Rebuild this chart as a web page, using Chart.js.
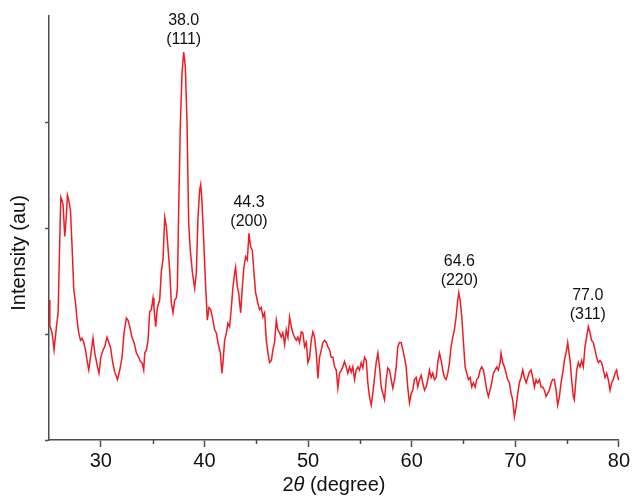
<!DOCTYPE html>
<html>
<head>
<meta charset="utf-8">
<script src="https://cdn.jsdelivr.net/npm/chart.js@4/dist/chart.umd.min.js"></script>
<style>
  html, body { margin: 0; padding: 0; background: #fff; }
  #wrap { width: 632px; height: 496px; }
</style>
</head>
<body>
<div id="wrap"><canvas id="xrd" width="632" height="496"></canvas></div>
<script>
// 2-theta positions (degree)
const twoTheta = [
  25.00, 25.08, 25.30, 25.49, 25.72, 25.88, 26.04, 26.14, 26.26, 26.36,
  26.52, 26.65, 26.78, 26.91, 27.07, 27.23, 27.39, 27.56, 27.71, 27.87,
  28.04, 28.19, 28.36, 28.52, 28.67, 28.84, 29.00, 29.25, 29.42, 29.68,
  29.83, 30.00, 30.22, 30.38, 30.60, 30.77, 30.93, 31.12, 31.35, 31.61,
  31.83, 32.05, 32.24, 32.47, 32.63, 32.79, 33.01, 33.21, 33.44, 33.66,
  33.82, 33.98, 34.14, 34.24, 34.40, 34.56, 34.72, 34.88, 35.04, 35.13,
  35.30, 35.46, 35.68, 35.85, 36.00, 36.17, 36.33, 36.48, 36.65, 36.81,
  36.97, 37.13, 37.29, 37.39, 37.52, 37.68, 37.84, 38.00, 38.16, 38.32,
  38.48, 38.64, 38.84, 39.06, 39.22, 39.38, 39.54, 39.64, 39.76, 39.93,
  40.09, 40.28, 40.44, 40.60, 40.77, 40.99, 41.15, 41.31, 41.54, 41.69,
  41.79, 41.95, 42.12, 42.27, 42.43, 42.60, 42.75, 42.92, 43.01, 43.18,
  43.30, 43.50, 43.66, 43.81, 43.98, 44.14, 44.30, 44.46, 44.62, 44.78,
  44.94, 45.16, 45.33, 45.49, 45.65, 45.81, 45.97, 46.13, 46.29, 46.46,
  46.61, 46.77, 46.94, 47.09, 47.26, 47.42, 47.57, 47.74, 47.90, 48.06,
  48.22, 48.38, 48.54, 48.70, 48.87, 49.02, 49.18, 49.35, 49.50, 49.67,
  49.83, 49.99, 50.15, 50.31, 50.47, 50.63, 50.80, 50.95, 51.11, 51.28,
  51.43, 51.60, 51.76, 51.91, 52.08, 52.24, 52.40, 52.56, 52.72, 52.88,
  53.04, 53.21, 53.36, 53.52, 53.69, 53.84, 54.01, 54.17, 54.32, 54.49,
  54.65, 54.81, 54.97, 55.13, 55.29, 55.45, 55.62, 55.77, 55.93, 56.10,
  56.25, 56.42, 56.58, 56.74, 56.90, 57.06, 57.22, 57.38, 57.55, 57.70,
  57.86, 58.03, 58.18, 58.35, 58.51, 58.66, 58.83, 58.99, 59.15, 59.31,
  59.47, 59.63, 59.79, 59.96, 60.11, 60.27, 60.44, 60.59, 60.76, 60.92,
  61.07, 61.24, 61.40, 61.56, 61.72, 61.88, 62.04, 62.20, 62.37, 62.52,
  62.68, 62.85, 63.00, 63.17, 63.33, 63.49, 63.65, 63.81, 63.97, 64.13,
  64.29, 64.45, 64.55, 64.68, 64.84, 65.00, 65.16, 65.32, 65.48, 65.65,
  65.80, 65.96, 66.13, 66.28, 66.45, 66.61, 66.76, 66.93, 67.09, 67.25,
  67.41, 67.57, 67.73, 67.89, 68.06, 68.21, 68.37, 68.54, 68.63, 68.79,
  68.95, 69.12, 69.27, 69.43, 69.60, 69.75, 69.92, 70.08, 70.24, 70.40,
  70.56, 70.72, 70.88, 71.05, 71.20, 71.36, 71.53, 71.68, 71.85, 72.01,
  72.16, 72.33, 72.49, 72.65, 72.81, 72.97, 73.13, 73.29, 73.46, 73.61,
  73.77, 73.94, 74.09, 74.26, 74.42, 74.58, 74.74, 74.90, 75.06, 75.15,
  75.29, 75.44, 75.61, 75.70, 75.80, 75.93, 76.09, 76.25, 76.41, 76.57,
  76.73, 76.89, 77.05, 77.22, 77.37, 77.53, 77.70, 77.85, 78.02, 78.18,
  78.34, 78.50, 78.66, 78.82, 78.98, 79.15, 79.30, 79.46, 79.63, 79.78,
  79.95, 80.00
];

// intensity (au), same order as twoTheta
const intensity = [
  132, 108, 101, 85, 107, 120, 189, 229, 226, 222,
  192, 208, 231, 226, 217, 182, 142, 129, 113, 101,
  94, 96, 92, 85, 75, 66, 78, 96, 82, 69,
  63, 78, 85, 88, 97, 92, 88, 75, 64, 57,
  66, 78, 101, 115, 113, 107, 97, 92, 82, 78,
  74, 73, 66, 82, 85, 94, 121, 123, 134, 125,
  107, 125, 132, 160, 170, 210, 201, 182, 160, 129,
  120, 132, 134, 144, 220, 299, 346, 366, 352, 299,
  205, 179, 158, 143, 158, 210, 236, 241, 226, 189,
  151, 113, 125, 123, 116, 104, 101, 92, 82, 63,
  73, 94, 101, 110, 107, 125, 144, 158, 163, 144,
  139, 120, 144, 163, 173, 170, 195, 182, 179, 158,
  139, 129, 123, 125, 116, 120, 94, 82, 73, 75,
  85, 92, 113, 104, 101, 97, 101, 90, 104, 97,
  116, 107, 101, 97, 94, 97, 92, 102, 101, 88,
  92, 73, 78, 94, 102, 97, 82, 58, 78, 85,
  92, 94, 92, 88, 85, 78, 78, 69, 66, 49,
  63, 66, 69, 74, 69, 63, 69, 64, 69, 57,
  66, 69, 66, 73, 68, 78, 75, 54, 41, 33,
  44, 59, 73, 82, 69, 50, 44, 38, 57, 68,
  66, 57, 49, 57, 69, 88, 92, 92, 85, 78,
  69, 49, 35, 44, 47, 57, 59, 50, 57, 61,
  54, 47, 50, 57, 66, 59, 63, 57, 59, 73,
  82, 75, 66, 59, 57, 63, 73, 88, 97, 104,
  116, 132, 139, 132, 116, 92, 69, 63, 57, 59,
  50, 54, 50, 57, 59, 66, 69, 66, 57, 47,
  41, 47, 54, 63, 66, 69, 66, 73, 82, 73,
  69, 63, 57, 54, 44, 38, 22, 31, 44, 54,
  59, 66, 59, 54, 59, 64, 66, 59, 50, 57,
  54, 57, 50, 50, 47, 41, 44, 47, 54, 57,
  57, 47, 33, 41, 54, 63, 75, 82, 92, 85,
  75, 57, 41, 38, 50, 66, 73, 69, 75, 69,
  88, 97, 107, 101, 94, 92, 85, 78, 73, 75,
  73, 66, 59, 63, 57, 47, 54, 57, 63, 66,
  57, 59
];

// labelled reflections
const peakAngles = [38.0, 44.3, 64.6, 77.0];
const peakHkl = ["(111)", "(200)", "(220)", "(311)"];

// axis ticks
const xMajorTicks = [30, 40, 50, 60, 70, 80];
const xMinorTicks = [35, 45, 55, 65, 75];
const yTicks = [0, 100, 200, 300];

const FONT = "'Liberation Sans', Arial, Helvetica, sans-serif";
const AXIS_COLOR = "#4d4d4d";

if (twoTheta.length !== intensity.length) {
    console.error("length mismatch", twoTheta.length, intensity.length);
}

const points = twoTheta.map((t, i) => ({ x: t, y: intensity[i] }));

// minor ticks, peak labels and axis titles
const extras = {
    id: "extras",
    afterDraw(chart) {
        const c = chart.ctx;
        const xs = chart.scales.x;
        const ys = chart.scales.y;
        const area = chart.chartArea;
        c.save();

        // minor x ticks
        c.strokeStyle = AXIS_COLOR;
        c.lineWidth = 1.5;
        xMinorTicks.forEach((v) => {
            const px = Math.round(xs.getPixelForValue(v)) + 0.5;
            c.beginPath();
            c.moveTo(px, area.bottom);
            c.lineTo(px, area.bottom + 4);
            c.stroke();
        });

        // peak labels above the highest point near each position
        c.fillStyle = "#111";
        c.textAlign = "center";
        c.textBaseline = "middle";
        c.font = "16px " + FONT;
        peakAngles.forEach((ang, k) => {
            let top = 0;
            twoTheta.forEach((t, i) => {
                if (Math.abs(t - ang) < 0.3 && intensity[i] > top) top = intensity[i];
            });
            const px = xs.getPixelForValue(ang);
            const py = ys.getPixelForValue(top);
            c.fillText(ang.toFixed(1), px, py - 31);
            c.fillText(peakHkl[k], px, py - 12);
        });

        // y title
        c.font = "20px " + FONT;
        c.save();
        c.translate(19, 253);
        c.rotate(-Math.PI / 2);
        c.fillText("Intensity (au)", 0, 0);
        c.restore();

        // x title with italic theta
        const parts = [
            { t: "2", f: "20px " + FONT },
            { t: "\u03B8", f: "italic 20px " + FONT },
            { t: " (degree)", f: "20px " + FONT },
        ];
        let w = 0;
        parts.forEach((p) => { c.font = p.f; p.w = c.measureText(p.t).width; w += p.w; });
        let x = (area.left + area.right) / 2 - w / 2;
        c.textAlign = "left";
        c.textBaseline = "alphabetic";
        parts.forEach((p) => { c.font = p.f; c.fillText(p.t, x, 491); x += p.w; });

        c.restore();
    },
};

new Chart(document.getElementById("xrd"), {
    type: "scatter",
    data: {
        datasets: [
            {
                data: points,
                showLine: true,
                borderColor: "#ee1c25",
                borderWidth: 1.5,
                pointRadius: 0,
                tension: 0,
            },
        ],
    },
    options: {
        responsive: false,
        animation: false,
        layout: { padding: { top: 16, right: 12, left: 0, bottom: 0 } },
        plugins: {
            legend: { display: false },
            tooltip: { enabled: false },
        },
        scales: {
            x: {
                type: "linear",
                min: 25,
                max: 80,
                afterBuildTicks: (s) => { s.ticks = xMajorTicks.map((v) => ({ value: v })); },
                afterFit: (s) => { s.height = 56; },
                grid: { drawOnChartArea: false, tickLength: 7, tickColor: AXIS_COLOR, tickWidth: 1.5 },
                border: { color: AXIS_COLOR, width: 1.5 },
                ticks: { color: "#111", font: { family: FONT, size: 20 }, padding: 2, maxRotation: 0 },
            },
            y: {
                min: 0,
                max: 400,
                afterBuildTicks: (s) => { s.ticks = yTicks.map((v) => ({ value: v })); },
                afterFit: (s) => { s.width = 49; },
                grid: { drawOnChartArea: false, tickLength: 4, tickColor: AXIS_COLOR, tickWidth: 1.5 },
                border: { color: AXIS_COLOR, width: 1.5 },
                ticks: { display: false },
            },
        },
    },
    plugins: [extras],
});
</script>
</body>
</html>
